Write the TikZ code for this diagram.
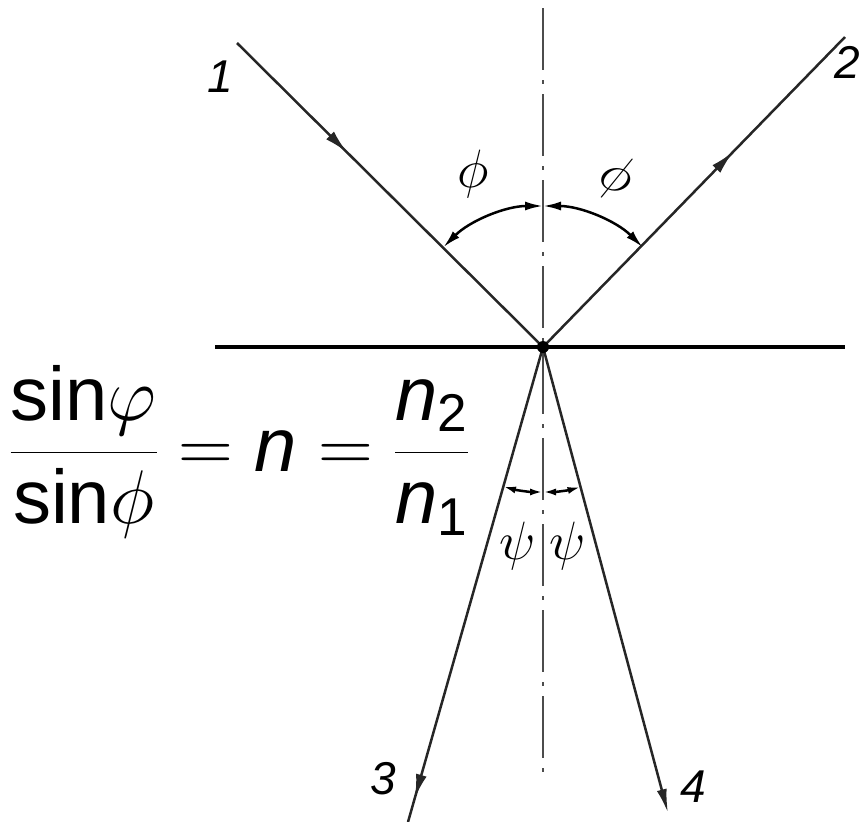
\RequirePackage{fix-cm}
\documentclass[tikz,border=0pt]{standalone}
\usepackage{amsmath}
\usepackage{fontspec}
\setmainfont{Liberation Sans}
\usetikzlibrary{arrows.meta,decorations.markings}

\begin{document}
\begin{tikzpicture}[
    x=1pt, y=-1pt,
    >={Latex[length=24pt,width=10pt]},
    ray/.style={line width=2.5pt, draw=black!85},
    midarrow/.style={postaction={decorate}, decoration={markings,
        mark=at position #1 with {\arrow{Latex[length=24pt,width=11pt]}}}},
    axis/.style={line width=2.5pt, draw=black!70,
        dash pattern=on 62pt off 10pt on 4pt off 10pt},
    anglearc/.style={line width=2.5pt, {Latex[length=18pt,width=9pt]}-{Latex[length=18pt,width=9pt]}},
    smallarc/.style={line width=2.5pt, {Latex[length=13pt,width=7pt]}-{Latex[length=13pt,width=7pt]}},
    num/.style={font=\fontsize{46}{46}\selectfont\itshape},
    greek/.style={font=\fontsize{54}{54}\selectfont}
]
    \useasboundingbox (0,0) rectangle (863,822);

    \coordinate (O) at (543,347);
    \coordinate (in1) at (237,43);
    \coordinate (out2) at (845,37);
    \coordinate (out3) at (408,822);
    \coordinate (out4) at (668,813);
    \coordinate (axtop) at (543,8);
    \coordinate (axbot) at (543,772);
    \coordinate (sL) at (215,347);
    \coordinate (sR) at (845,347);

    \draw[line width=4.5pt] (sL) -- (sR);
    \draw[axis] (axtop) -- (axbot);
    \draw[ray, midarrow=0.36] (in1) -- (O);
    \draw[ray, midarrow=0.63] (O) -- (out2);
    \draw[ray, midarrow=0.95] (O) -- (out3);
    \draw[ray, ->] (O) -- (out4);
    \fill (O) circle (6pt);

    \draw[anglearc] ([shift={(-90:141)}]O) arc[start angle=-90, end angle=-135, radius=141];
    \draw[anglearc] ([shift={(-90:141)}]O) arc[start angle=-90, end angle=-45, radius=141];
    \draw[smallarc] ([shift={(90:145)}]O) arc[start angle=90, end angle=106, radius=145];
    \draw[smallarc] ([shift={(90:145)}]O) arc[start angle=90, end angle=75, radius=145];

    \node[num] (n1) at (220,77) {1};
    \node[num] (n2) at (847,62) {2};
    \node[num] (n3) at (383,779) {3};
    \node[num] (n4) at (693,787) {4};

    \node[greek] (phiL) at (473,174) {$\phi$};
    \node[greek, rotate=-25] (phiR) at (616,178) {$\phi$};
    \node[greek] (psiL) at (518,546) {$\psi$};
    \node[greek] (psiR) at (568,546) {$\psi$};

    \node[anchor=west, font=\fontsize{76}{82}\selectfont] (law) at (6,452)
        {$\dfrac{\text{sin}\varphi}{\text{sin}\phi}=\textit{n}=\dfrac{\textit{n}_{\text{2}}}{\textit{n}_{\text{1}}}$};
\end{tikzpicture}
\end{document}
